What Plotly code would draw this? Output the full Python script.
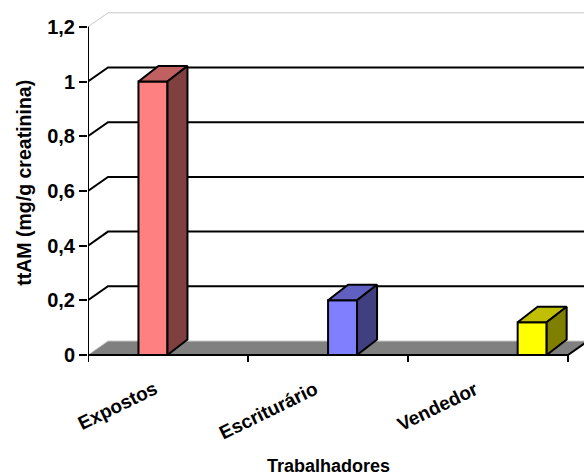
import plotly.graph_objects as go

# Urinary ttAM by worker group
categories = ["Expostos", "Escriturário", "Vendedor"]
values = [1.0, 0.2, 0.12]

tick_values = [0, 0.2, 0.4, 0.6, 0.8, 1.0, 1.2]
tick_labels = ["0", "0,2", "0,4", "0,6", "0,8", "1", "1,2"]

front_colors = ["#FF8080", "#8080FF", "#FFFF00"]
top_colors = ["#C06060", "#6060C0", "#C0C000"]
side_colors = ["#804040", "#404080", "#808000"]

# Pixel scale of the plotting area (used to express the oblique depth in data units)
PX_X = 160.0   # pixels per category
PX_Y = 273.5   # pixels per unit of ttAM
W, H = 584, 475
ML, MR, MT, MB = 88, 0, 10, 110

WALL_DX, WALL_DY = 20 / PX_X, 14 / PX_Y
BAR_DX, BAR_DY = 20 / PX_X, 15.5 / PX_Y
BAR_W = 29 / PX_X
N = len(categories)
Y_TOP = tick_values[-1]

x_max = (W - ML - MR) / PX_X
plot_h = H - MT - MB
y_zero_px = 355 - MT          # zero line measured from plot top
y_max = y_zero_px / PX_Y
y_min = -(plot_h - y_zero_px) / PX_Y

fig = go.Figure()


def poly(xs, ys, fill, line_color="black", width=2):
    fig.add_trace(go.Scatter(
        x=xs + [xs[0]], y=ys + [ys[0]], mode="lines", fill="toself",
        fillcolor=fill, line=dict(color=line_color, width=width),
        hoverinfo="skip", showlegend=False))


def seg(xs, ys, color="black", width=2):
    fig.add_trace(go.Scatter(
        x=xs, y=ys, mode="lines", line=dict(color=color, width=width),
        hoverinfo="skip", showlegend=False))


# floor
poly([0, N, N + WALL_DX, WALL_DX], [0, 0, WALL_DY, WALL_DY], "#808080",
     line_color="rgba(0,0,0,0)", width=0)
seg([0, WALL_DX, N + WALL_DX], [0, WALL_DY, WALL_DY], color="#C8C8C8", width=1)
seg([0, N, N + WALL_DX], [0, 0, WALL_DY])

# back-wall gridlines and side-wall diagonals
for v in tick_values[1:-1]:
    seg([0, WALL_DX, N + WALL_DX], [v, v + WALL_DY, v + WALL_DY])
seg([0, WALL_DX, N + WALL_DX], [Y_TOP, Y_TOP + WALL_DY, Y_TOP + WALL_DY],
    color="#C8C8C8", width=1)

# value axis line and category ticks
seg([0, 0], [0, Y_TOP])
tick_len = 7 / PX_Y
for k in range(N + 1):
    seg([k, k], [0, -tick_len])

# 3D bars: front, top and side faces
for i, (cat, v) in enumerate(zip(categories, values)):
    center = i + 0.5 + (-0.094 + i * 0.185)
    x0, x1 = center - BAR_W / 2, center + BAR_W / 2
    poly([x0, x1, x1, x0], [0, 0, v, v], front_colors[i])
    poly([x0, x1, x1 + BAR_DX, x0 + BAR_DX], [v, v, v + BAR_DY, v + BAR_DY], top_colors[i])
    poly([x1, x1 + BAR_DX, x1 + BAR_DX, x1], [0, BAR_DY, v + BAR_DY, v], side_colors[i])

font = dict(family="Liberation Sans, Arial", color="black", weight="bold")

# rotated category labels ending just left of each category centre
for i, cat in enumerate(categories):
    fig.add_annotation(x=i + 0.5, y=0, xref="x", yref="y", text=cat,
                       showarrow=False, textangle=-26, xanchor="right",
                       yanchor="top", xshift=-4, yshift=-20,
                       font=dict(size=19, **font))

fig.add_annotation(x=1.5, y=0, xref="x", yref="y", text="Trabalhadores",
                   showarrow=False, xanchor="center", yanchor="middle",
                   yshift=-111, font=dict(size=18, **font))
fig.add_annotation(x=0, y=0.63, xref="x", yref="y", text="ttAM (mg/g creatinina)",
                   showarrow=False, textangle=-90, xanchor="center",
                   yanchor="middle", xshift=-64, font=dict(size=19.5, **font))

fig.update_layout(
    width=W, height=H, margin=dict(l=ML, r=MR, t=MT, b=MB, autoexpand=False),
    paper_bgcolor="white", plot_bgcolor="white", showlegend=False,
    xaxis=dict(range=[0, x_max], visible=False, fixedrange=True),
    yaxis=dict(range=[y_min, y_max], tickvals=tick_values, ticktext=tick_labels,
               ticks="outside", ticklen=8, tickwidth=2, tickcolor="black",
               ticklabelstandoff=0,
               showgrid=False, zeroline=False, showline=False,
               tickfont=dict(size=20, **font), fixedrange=True, automargin=False),
)

fig.write_html("out.html")
